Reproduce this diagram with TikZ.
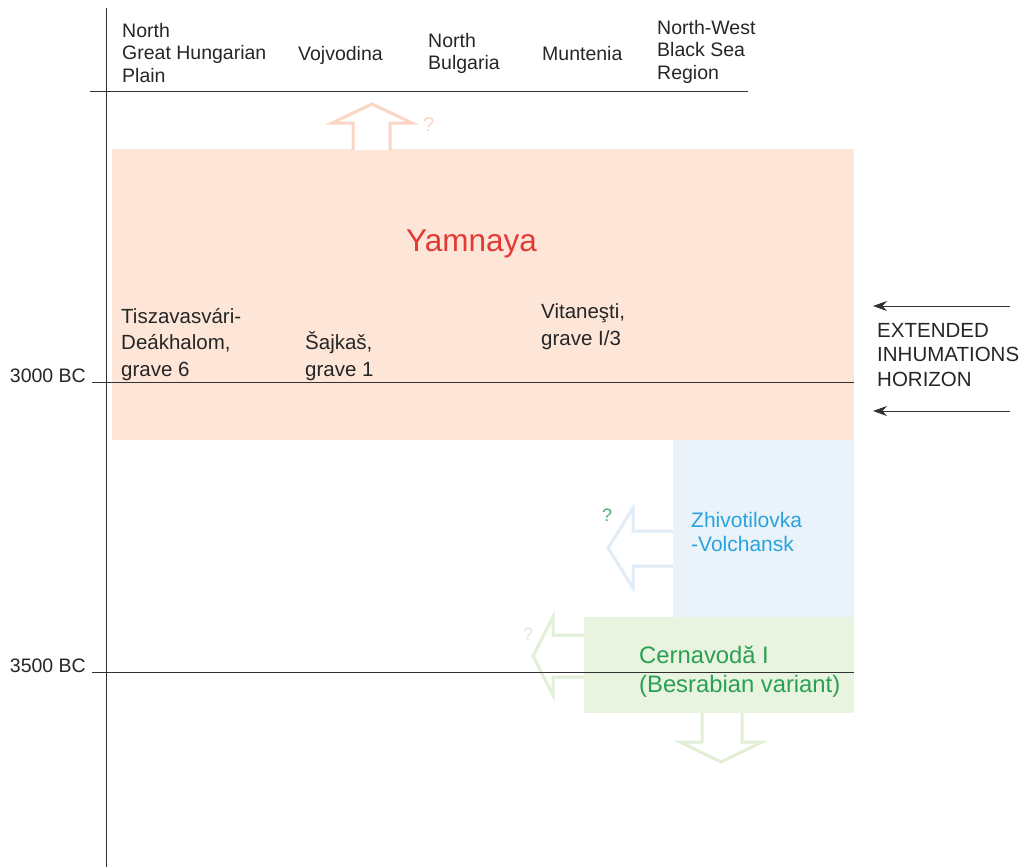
\documentclass[tikz,border=0pt]{standalone}
\usepackage{fontspec}
\setmainfont{Liberation Sans}
\usetikzlibrary{arrows.meta}
\definecolor{peach}{RGB}{253,229,216}
\definecolor{yamred}{RGB}{228,58,54}
\definecolor{paleblue}{RGB}{234,243,250}
\definecolor{zhblue}{RGB}{41,163,220}
\definecolor{palegreen}{RGB}{232,243,224}
\definecolor{cegreen}{RGB}{43,160,82}
\definecolor{arrorange}{RGB}{252,214,196}
\definecolor{arrblue}{RGB}{225,236,247}
\definecolor{arrgreen}{RGB}{225,239,214}
\definecolor{linegray}{RGB}{50,50,50}
\tikzset{
  lbl/.style={anchor=base west, inner sep=0pt, align=left, text=black!85},
  hdr/.style={lbl, font=\fontsize{19.5}{22.5}\selectfont},
  site/.style={lbl, font=\fontsize{20.5}{26.5}\selectfont},
  axisline/.style={draw=linegray, line width=0.9pt},
  outarrow/.style={line width=3pt, line join=miter, fill=white},
  period/.style={anchor=base east, inner sep=0pt, text=black!85, font=\fontsize{19.5}{22}\selectfont},
}
\begin{document}
\begin{tikzpicture}[x=1pt,y=-1pt]
\useasboundingbox (0,0) rectangle (1027,867);
% period boxes
\fill[peach] (112,149) rectangle (854,440);
\fill[paleblue] (673,440) rectangle (854,617);
\fill[palegreen] (584,617) rectangle (854,713);
% outlined arrows
\draw[outarrow, draw=arrorange] (353,150) -- (353,123) -- (332,123) -- (372,104) -- (412,123) -- (390,123) -- (390,150);
\draw[outarrow, draw=arrblue] (673,531) -- (633,531) -- (633,508) -- (608,548) -- (633,588) -- (633,566) -- (673,566);
\draw[outarrow, draw=arrgreen] (584,635) -- (553,635) -- (553,617) -- (533,656) -- (553,695) -- (553,677) -- (584,677);
\draw[outarrow, draw=arrgreen] (702,713) -- (702,742) -- (680,742) -- (721,762) -- (762,742) -- (742,742) -- (742,713);
% axes
\coordinate (vtop) at (106,8);
\coordinate (vbot) at (106,867);
\draw[axisline] (vtop) -- (vbot);
\coordinate (h0) at (90,91); \coordinate (h1) at (748,91);
\draw[axisline] (h0) -- (h1);
\coordinate (a0) at (92,382); \coordinate (a1) at (854,382);
\draw[axisline] (a0) -- (a1);
\coordinate (b0) at (92,672); \coordinate (b1) at (854,672);
\draw[axisline] (b0) -- (b1);
\node[period] (p3000) at (86,382) {3000 BC};
\node[period] (p3500) at (86,672) {3500 BC};
% header
\node[hdr] (ngh) at (122,82) {North\\Great Hungarian\\Plain};
\node[hdr] (voj) at (298,60) {Vojvodina};
\node[hdr] (nbu) at (428,70) {North\\Bulgaria};
\node[hdr] (mun) at (542,60) {Muntenia};
\node[hdr] (nwb) at (657,79) {North-West\\Black Sea\\Region};
% yamnaya
\node[lbl, text=yamred, font=\fontsize{31.5}{36}\selectfont] (yam) at (406,251) {Yamnaya};
\node[site] (tis) at (121,376) {Tiszavasvári-\\Deákhalom,\\grave 6};
\node[site] (saj) at (305,376) {Šajkaš,\\grave 1};
\node[site] (vit) at (541,345) {Vitaneşti,\\grave I/3};
% others
\node[lbl, text=zhblue, font=\fontsize{21}{23.5}\selectfont] (zhi) at (691,551) {Zhivotilovka\\-Volchansk};
\node[lbl, text=cegreen, font=\fontsize{23.8}{29}\selectfont] (cer) at (639,692) {Cernavodă I\\(Besrabian variant)};
% question marks
\node[lbl, text=arrorange, font=\fontsize{20}{20}\selectfont] (q1) at (423,131) {?};
\node[lbl, text=cegreen!85, font=\fontsize{18}{18}\selectfont] (q2) at (602,521) {?};
\node[lbl, text=arrgreen!90!black!60, font=\fontsize{18}{18}\selectfont] (q3) at (523,640) {?};
% extended inhumations horizon
\node[site, font=\fontsize{20.5}{24.5}\selectfont] (ext) at (877,386) {EXTENDED\\INHUMATIONS\\HORIZON};
\coordinate (r1a) at (1010,306); \coordinate (r1b) at (873,306);
\coordinate (r2a) at (1010,411); \coordinate (r2b) at (873,411);
\draw[axisline, -{Stealth[length=14pt,width=10pt]}] (r1a) -- (r1b);
\draw[axisline, -{Stealth[length=14pt,width=10pt]}] (r2a) -- (r2b);
\end{tikzpicture}
\end{document}
